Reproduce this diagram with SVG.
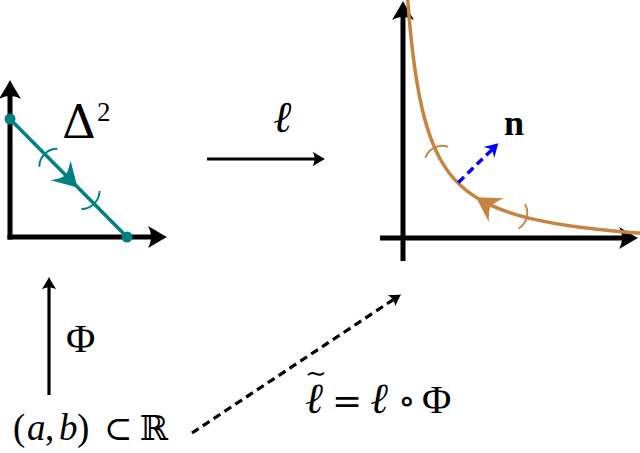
<svg xmlns="http://www.w3.org/2000/svg" width="640" height="453" viewBox="0 0 640 453">
<style>
.ax{stroke:#000;stroke-width:5;fill:none;stroke-linecap:butt}
.arr{stroke:#000;stroke-width:3.2;fill:none}
.dash{stroke:#000;stroke-width:3.2;fill:none;stroke-dasharray:8 5}
.teal{stroke:#008080;stroke-width:3.5;fill:none}
.orange{stroke:#c8843e;stroke-width:3.5;fill:none}
.tickt{stroke:#008080;stroke-width:1.9;fill:none}
.ticko{stroke:#c8843e;stroke-width:1.9;fill:none}
.blue{stroke:#0000ff;stroke-width:3.5;fill:none;stroke-dasharray:8 5}
.serif{font-family:"Liberation Serif","DejaVu Serif",serif;fill:#000}
.dv{font-family:"DejaVu Serif","Liberation Serif",serif;fill:#000}
</style>
<defs>
<path id="head" d="M0,0 C-5,-2.5 -12,-7 -19,-11 C-15,-4 -15,4 -19,11 C-12,7 -5,2.5 0,0 Z"/>
<path id="stealth" d="M0,0 L-24,-14 Q-18,-5 -17,0 Q-18,5 -24,14 Z"/>
<path id="tickL" d="M0,-12.7 A18,18 0 0 0 0,12.7"/>
<path id="tickR" d="M0,-12.7 A18,18 0 0 1 0,12.7"/>
</defs>

<g id="simplex">
<line class="ax" x1="7.5" y1="237" x2="154" y2="237"/>
<use href="#head" transform="translate(167,237)"/>
<line class="ax" x1="10" y1="239.5" x2="10" y2="93"/>
<use href="#head" transform="translate(10,80) rotate(-90)"/>
<line class="teal" x1="10" y1="119" x2="127" y2="237"/>
<use href="#stealth" fill="#008080" transform="translate(77.5,187.5) rotate(45.24)"/>
<use href="#tickL" class="tickt" transform="translate(48.3,157.7) rotate(45.24)"/>
<use href="#tickR" class="tickt" transform="translate(90.5,200) rotate(45.24)"/>
<circle cx="10" cy="119" r="5.5" fill="#008080"/>
<circle cx="127" cy="237" r="5.5" fill="#008080"/>
<text class="dv" x="62" y="138" font-size="47">Δ</text>
<text class="serif" x="97" y="121" font-size="27">2</text>
</g>

<g id="curve-plot">
<line class="ax" x1="380" y1="238" x2="625" y2="238"/>
<use href="#head" transform="translate(638,238)"/>
<line class="ax" x1="403" y1="261" x2="403" y2="14"/>
<use href="#head" transform="translate(403,1) rotate(-90)"/>
<path class="orange" d="M407.5,-3 C410,30.95 412.5,52.44 415,69.79 C418.33,92.92 421.67,107.93 425,120.07 C430,138.29 435,149.61 440,158.73 C446.67,170.89 453.33,178.69 460,184.98 C470,194.42 480,200.24 490,204.92 C503.33,211.16 516.67,215.12 530,218.33 C546.67,222.34 563.33,225.02 580,227.21 C599,229.7 618,231.49 637,232.97 L642,233.2"/>
<use href="#stealth" fill="#c8843e" transform="translate(476,197.3) rotate(212.2)"/>
<use href="#tickL" class="ticko" transform="translate(521.7,216.2) rotate(194.3)"/>
<use href="#tickR" class="ticko" transform="translate(436.7,152.3) rotate(244.3)"/>
<line class="blue" x1="458.3" y1="182.5" x2="492" y2="149.6"/>
<use href="#stealth" fill="#0000ff" transform="translate(498.3,143.3) rotate(-44.3) scale(0.55)"/>
<text class="serif" x="504" y="135" font-size="36" font-weight="bold">n</text>
</g>

<g id="interval">
<text class="serif" y="440" font-size="37"><tspan x="13">(</tspan><tspan x="27" font-style="italic">a</tspan><tspan x="45">,</tspan><tspan x="59" font-style="italic">b</tspan><tspan x="77">)</tspan><tspan x="104" class="dv" font-size="34">⊂</tspan><tspan x="140" class="dv" font-size="34">ℝ</tspan></text>
</g>

<g id="connectors">
<line class="arr" x1="207" y1="159" x2="316" y2="159"/>
<use href="#head" transform="translate(325,159) scale(0.65)"/>
<text class="dv" x="273" y="132" font-size="44" font-style="italic">ℓ</text>
<line class="arr" x1="49" y1="395" x2="49" y2="286"/>
<use href="#head" transform="translate(49,277) rotate(-90) scale(0.65)"/>
<text class="serif" x="66" y="352" font-size="40">Φ</text>
<line class="dash" x1="192" y1="433" x2="393" y2="299.8"/>
<use href="#head" transform="translate(401,294.5) rotate(-33.5) scale(0.6)"/>
<text class="dv" font-size="36"><tspan x="305" y="413" font-size="43" font-style="italic">ℓ</tspan><tspan x="305" y="382" font-size="26">∼</tspan><tspan x="332" y="413">=</tspan><tspan x="370" y="413" font-size="43" font-style="italic">ℓ</tspan><tspan x="398" y="413">∘</tspan></text>
<text class="serif" x="422" y="413" font-size="40">Φ</text>
</g>
</svg>
